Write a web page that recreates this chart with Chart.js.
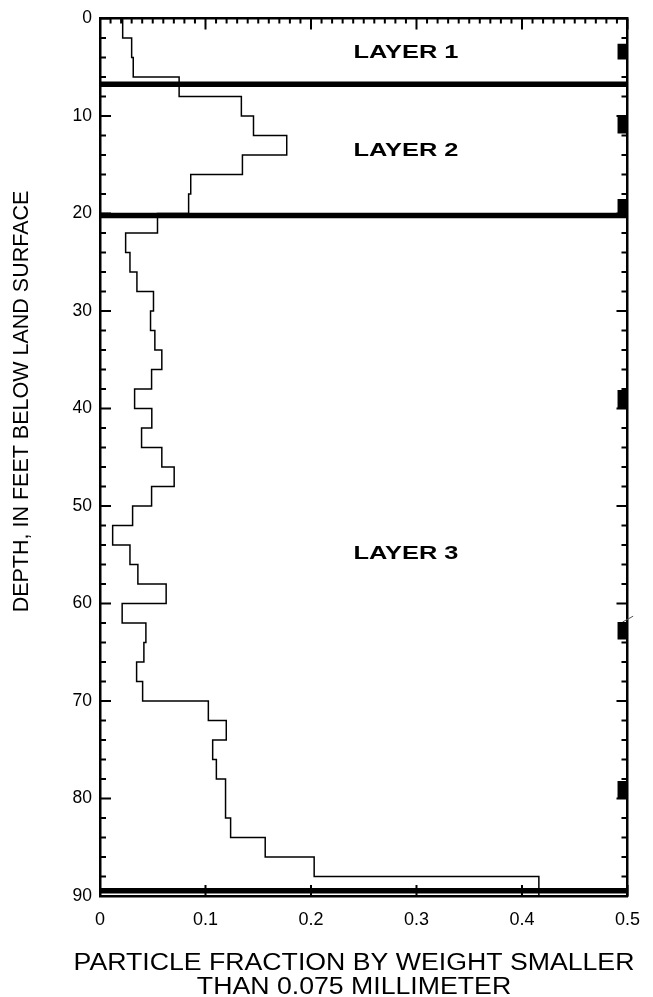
<!DOCTYPE html>
<html>
<head>
<meta charset="utf-8">
<script src="https://cdn.jsdelivr.net/npm/chart.js@4.4.1/dist/chart.umd.min.js"></script>
<style>
  html, body { margin: 0; padding: 0; background: #fff; }
  #wrap { width: 653px; height: 997px; position: relative; }
</style>
</head>
<body>
<div id="wrap"><canvas id="chart"></canvas></div>
<script>
// top of each 2-foot sample interval, feet below land surface
const intervalTops = [
  0, 2, 4, 6, 8, 10, 12, 14, 16, 18,
  20, 22, 24, 26, 28, 30, 32, 34, 36, 38,
  40, 42, 44, 46, 48, 50, 52, 54, 56, 58,
  60, 62, 64, 66, 68, 70, 72, 74, 76, 78,
  80, 82, 84, 86, 88,
];
// fraction finer than 0.075 mm in each interval
const fractions = [
  0.0215, 0.030, 0.0315, 0.075, 0.134, 0.1455, 0.177, 0.135, 0.086, 0.084,
  0.0545, 0.0243, 0.0284, 0.035, 0.0507, 0.0479, 0.052, 0.0586, 0.0489, 0.0328,
  0.0491, 0.0394, 0.0586, 0.0703, 0.0489, 0.0309, 0.012, 0.0284, 0.0359, 0.0627,
  0.021, 0.0435, 0.0416, 0.0347, 0.0404, 0.1027, 0.1197, 0.1068, 0.1103, 0.119,
  0.119, 0.1238, 0.1566, 0.203, 0.416,
];
const profileBottom = 90;

const layerNames = ["LAYER 1", "LAYER 2", "LAYER 3"];
const layerBottoms = [6.75, 20.2, 89.45];
const layerLabelFraction = 0.29;

// cored sample intervals, marked along the right edge
const sampleTops = [2.6, 9.9, 18.5, 38.1, 61.9, 78.2];
const sampleBottoms = [4.2, 11.8, 20.3, 40.0, 63.7, 80.0];
const sampleColumn = 0.4953;
// short pen stroke leaving the 62-foot mark
const strayStroke = [{ x: 0.4953, y: 61.9 }, { x: 0.5054, y: 61.3 }];

const xTickValues = [0, 0.1, 0.2, 0.3, 0.4, 0.5];
const depthTickValues = [0, 10, 20, 30, 40, 50, 60, 70, 80, 90];
const xTitleLines = ["PARTICLE FRACTION BY WEIGHT SMALLER", "THAN 0.075 MILLIMETER"];
const yTitle = "DEPTH, IN FEET BELOW LAND SURFACE";

const FONT = "'Liberation Sans', Arial, Helvetica, sans-serif";
const xMin = 0, xMax = 0.5;

const profile = fractions.map((f, i) => ({ x: f, y: intervalTops[i] }));
profile.push({ x: fractions[fractions.length - 1], y: profileBottom });

const layerLines = layerBottoms.map((d) => ({
  data: [{ x: xMin, y: d }, { x: xMax, y: d }],
  borderColor: "#000",
  borderWidth: 5.5,
  borderCapStyle: "butt",
  pointRadius: 0,
  showLine: true,
}));

const sampleMarks = sampleTops.map((t, i) => ({
  data: [{ x: sampleColumn, y: t }, { x: sampleColumn, y: sampleBottoms[i] }],
  borderColor: "#000",
  borderWidth: 10,
  borderCapStyle: "butt",
  pointRadius: 0,
  showLine: true,
}));

// inward tick marks on all four sides
const innerTicks = {
  id: "innerTicks",
  afterDatasetsDraw(chart) {
    const { ctx, chartArea: a, scales: { x, y } } = chart;
    ctx.save();
    ctx.strokeStyle = "#000";
    ctx.lineWidth = 2;
    ctx.beginPath();
    for (let d = 0; d <= 90; d += 2) {
      const py = y.getPixelForValue(d);
      const len = d % 10 === 0 ? 11 : 6;
      ctx.moveTo(a.left, py); ctx.lineTo(a.left + len, py);
      ctx.moveTo(a.right, py); ctx.lineTo(a.right - len, py);
    }
    for (let i = 0; i <= 50; i++) {
      const px = x.getPixelForValue(i / 100);
      const major = i % 10 === 0;
      ctx.moveTo(px, a.top); ctx.lineTo(px, a.top + (major ? 11 : 5));
      if (major) { ctx.moveTo(px, a.bottom); ctx.lineTo(px, a.bottom - 11); }
    }
    ctx.stroke();
    ctx.restore();
  },
};

const textLayer = {
  id: "textLayer",
  afterDraw(chart) {
    const { ctx, scales: { x, y } } = chart;
    ctx.save();
    ctx.fillStyle = "#000";
    ctx.textAlign = "center";
    ctx.textBaseline = "alphabetic";

    ctx.font = "bold 18px " + FONT;
    layerNames.forEach((name, i) => {
      const top = i === 0 ? 0 : layerBottoms[i - 1];
      const mid = (top + layerBottoms[i]) / 2;
      ctx.save();
      ctx.translate(x.getPixelForValue(layerLabelFraction), y.getPixelForValue(mid) + 6.4);
      ctx.scale(1.41, 1);
      ctx.fillText(name, 0, 0);
      ctx.restore();
    });

    ctx.font = "21.5px " + FONT;
    ctx.save();
    ctx.translate(27.5, 401.5);
    ctx.rotate(-Math.PI / 2);
    ctx.fillText(yTitle, 0, 0);
    ctx.restore();

    ctx.font = "23px " + FONT;
    xTitleLines.forEach((line, i) => {
      ctx.save();
      ctx.translate(354, 970 + i * 24);
      ctx.scale(1.16, 1);
      ctx.fillText(line, 0, 0);
      ctx.restore();
    });
    ctx.restore();
  },
};

const edge = { color: "#000", width: 2.5 };

new Chart(document.getElementById("chart"), {
  type: "scatter",
  data: {
    datasets: [
      ...layerLines,
      ...sampleMarks,
      {
        data: strayStroke,
        borderColor: "#555",
        borderWidth: 1,
        pointRadius: 0,
        showLine: true,
        clip: false,
      },
      {
        data: profile,
        borderColor: "#000",
        borderWidth: 1.5,
        pointRadius: 0,
        showLine: true,
        stepped: "after",
      },
    ],
  },
  options: {
    responsive: true,
    maintainAspectRatio: false,
    animation: false,
    layout: { padding: { top: 14, right: 24, bottom: 0, left: 0 } },
    plugins: { legend: { display: false }, tooltip: { enabled: false } },
    scales: {
      x: {
        type: "linear",
        position: "bottom",
        min: xMin,
        max: xMax,
        afterBuildTicks: (s) => { s.ticks = xTickValues.map((v) => ({ value: v })); },
        afterFit: (s) => { s.height = 101; },
        grid: { display: false, drawTicks: false },
        border: { color: "#000", width: 2.5, dash: [8, 3] },
        ticks: {
          color: "#000",
          padding: 13,
          maxRotation: 0,
          font: { family: FONT, size: 18 },
          callback: (v) => String(v),
        },
      },
      xTop: {
        type: "linear",
        position: "top",
        min: xMin,
        max: xMax,
        afterFit: (s) => { s.height = 0; },
        grid: { display: false, drawTicks: false },
        border: edge,
        ticks: { display: false },
      },
      y: {
        type: "linear",
        position: "left",
        reverse: true,
        min: 0,
        max: 90,
        afterBuildTicks: (s) => { s.ticks = depthTickValues.map((v) => ({ value: v })); },
        afterFit: (s) => { s.width = 100; },
        grid: { display: false, drawTicks: false },
        border: edge,
        ticks: {
          color: "#000",
          padding: 8,
          font: { family: FONT, size: 17.5 },
          callback: (v) => String(v),
        },
      },
      yRight: {
        type: "linear",
        position: "right",
        reverse: true,
        min: 0,
        max: 90,
        afterFit: (s) => { s.width = 0; },
        grid: { display: false, drawTicks: false },
        border: edge,
        ticks: { display: false },
      },
    },
  },
  plugins: [innerTicks, textLayer],
});
</script>
</body>
</html>
